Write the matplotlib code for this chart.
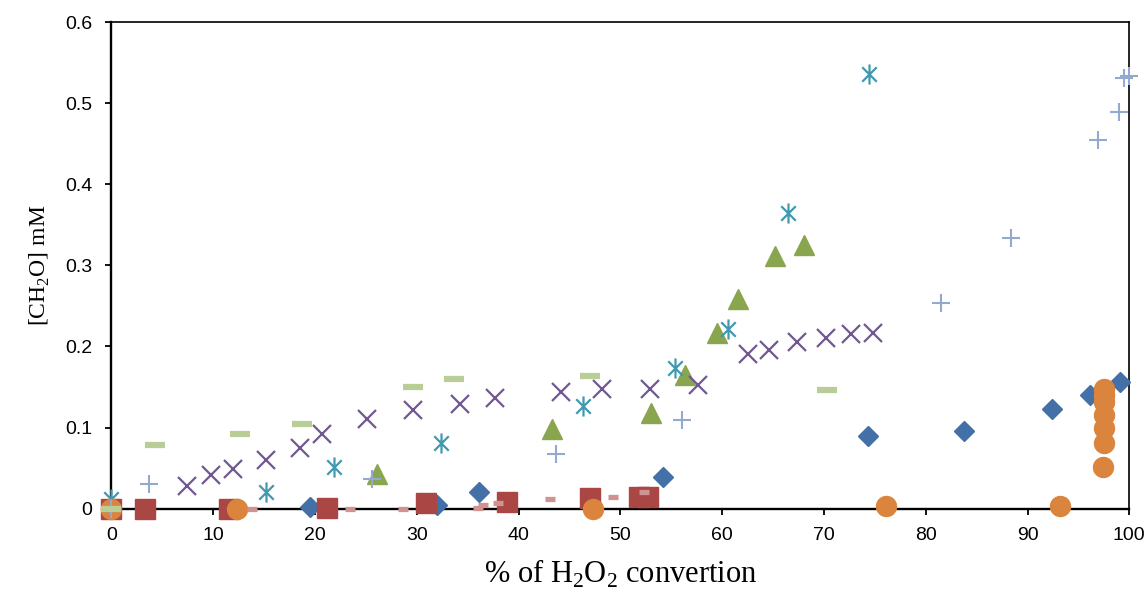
import matplotlib
matplotlib.use('Agg')
import matplotlib.pyplot as plt
from matplotlib.path import Path
from matplotlib.ticker import FuncFormatter

# series (x = % H2O2 conversion, y = [CH2O] mM)
diamond_x = [0, 19.5, 32.0, 36.1, 54.2, 74.3, 83.8, 92.4, 96.1, 99.1]
diamond_y = [0, 0.002, 0.005, 0.021, 0.039, 0.090, 0.096, 0.123, 0.140, 0.156]

square_x = [0, 3.3, 11.5, 21.2, 30.9, 38.9, 47.0, 51.8, 52.7]
square_y = [0, 0, 0, 0.001, 0.007, 0.008, 0.013, 0.014, 0.014]

triangle_x = [26.1, 43.3, 53.0, 56.3, 59.5, 61.6, 65.2, 68.0]
triangle_y = [0.043, 0.098, 0.118, 0.165, 0.216, 0.259, 0.312, 0.325]

cross_x = [7.45, 9.8, 11.9, 15.2, 18.5, 20.65, 25.1, 29.6, 34.2, 37.7, 44.2, 48.2, 52.9,
           57.6, 62.5, 64.6, 67.4, 70.2, 72.65, 74.85]
cross_y = [0.028, 0.042, 0.049, 0.060, 0.0745, 0.092, 0.111, 0.122, 0.129, 0.137, 0.1435,
           0.147, 0.148, 0.1525, 0.191, 0.196, 0.206, 0.211, 0.215, 0.217]

aster_x = [0, 15.2, 21.9, 32.4, 46.3, 55.4, 60.6, 66.5, 74.4]
aster_y = [0.012, 0.020, 0.051, 0.081, 0.127, 0.173, 0.222, 0.364, 0.536]

circle_x = [0, 12.3, 47.3, 76.1, 93.2, 97.45, 97.5, 97.5, 97.5, 97.5, 97.5, 97.5]
circle_y = [0, 0, 0, 0.003, 0.003, 0.052, 0.081, 0.100, 0.116, 0.131, 0.140, 0.147]

plus_x = [0, 3.7, 25.6, 43.7, 56.1, 81.5, 88.4, 96.95, 98.96, 99.5, 100]
plus_y = [0, 0.030, 0.037, 0.067, 0.109, 0.253, 0.334, 0.454, 0.489, 0.531, 0.533]

pink_x = [0, 13.8, 23.4, 28.6, 36.0, 36.5, 38.0, 43.1, 49.3, 52.3]
pink_y = [0, 0, 0, 0, 0.001, 0.005, 0.007, 0.0116, 0.015, 0.020]

green_x = [0, 4.3, 12.6, 18.75, 29.65, 33.7, 47.0, 70.3]
green_y = [0, 0.078, 0.092, 0.104, 0.150, 0.160, 0.163, 0.146]

xticks = [0, 10, 20, 30, 40, 50, 60, 70, 80, 90, 100]
yticks = [0, 0.1, 0.2, 0.3, 0.4, 0.5, 0.6]

# excel style asterisk: vertical bar + two diagonals
d = 0.72
aster = Path([(0, -1), (0, 1), (-d, -d), (d, d), (-d, d), (d, -d)],
             [Path.MOVETO, Path.LINETO, Path.MOVETO, Path.LINETO, Path.MOVETO, Path.LINETO])

fig = plt.figure(figsize=(11.48, 5.92), dpi=100)
ax = fig.add_axes([0.0971, 0.1407, 0.8866, 0.8221])

kw = dict(linestyle='none', clip_on=False, zorder=3)
ax.plot(diamond_x, diamond_y, marker='D', ms=10.2, color='#4470A8', mec='#4470A8', **kw)
ax.plot(square_x, square_y, marker='s', ms=14.4, color='#AA4643', mec='#AA4643', **kw)
ax.plot(triangle_x, triangle_y, marker='^', ms=14.4, color='#89A54E', mec='#89A54E', **kw)
ax.plot(cross_x, cross_y, marker='x', ms=13.5, mew=1.6, color='#71588F', **kw)
ax.plot(aster_x, aster_y, marker=aster, ms=14.5, mew=1.6, color='#4198AF', **kw)
ax.plot(circle_x, circle_y, marker='o', ms=14.4, color='#DB843D', mec='#DB843D', **kw)
ax.plot(plus_x, plus_y, marker='+', ms=13, mew=1.5, color='#93A9CF', **kw)
ax.plot(pink_x, pink_y, marker='_', ms=7.5, mew=3.8, color='#D19392', **kw)
ax.plot(green_x, green_y, marker='_', ms=14.5, mew=4.5, color='#B9CD96', **kw)

ax.set_xlim(0, 100)
ax.set_ylim(0, 0.6)
ax.set_xticks(xticks)
ax.set_yticks(yticks)
ax.yaxis.set_major_formatter(FuncFormatter(lambda v, p: '%g' % round(v, 2)))

ax.tick_params(axis='both', direction='out', length=4.5, width=1.3, color='black',
               labelsize=14, labelfontfamily='Liberation Sans')
ax.tick_params(axis='x', pad=9)
ax.tick_params(axis='y', pad=9.5)

ax.spines['left'].set_linewidth(1.7)
ax.spines['bottom'].set_linewidth(1.7)
ax.spines['top'].set_linewidth(1.2)
ax.spines['right'].set_linewidth(1.2)

ax.set_xlabel(r'% of H$_\mathregular{2}$O$_\mathregular{2}$ convertion',
              fontfamily='Liberation Serif', fontsize=22, labelpad=10)
ax.set_ylabel(r'[CH$_\mathregular{2}$O] mM',
              fontfamily='Liberation Serif', fontsize=17, labelpad=9)

fig.savefig('out.png', dpi=100)
